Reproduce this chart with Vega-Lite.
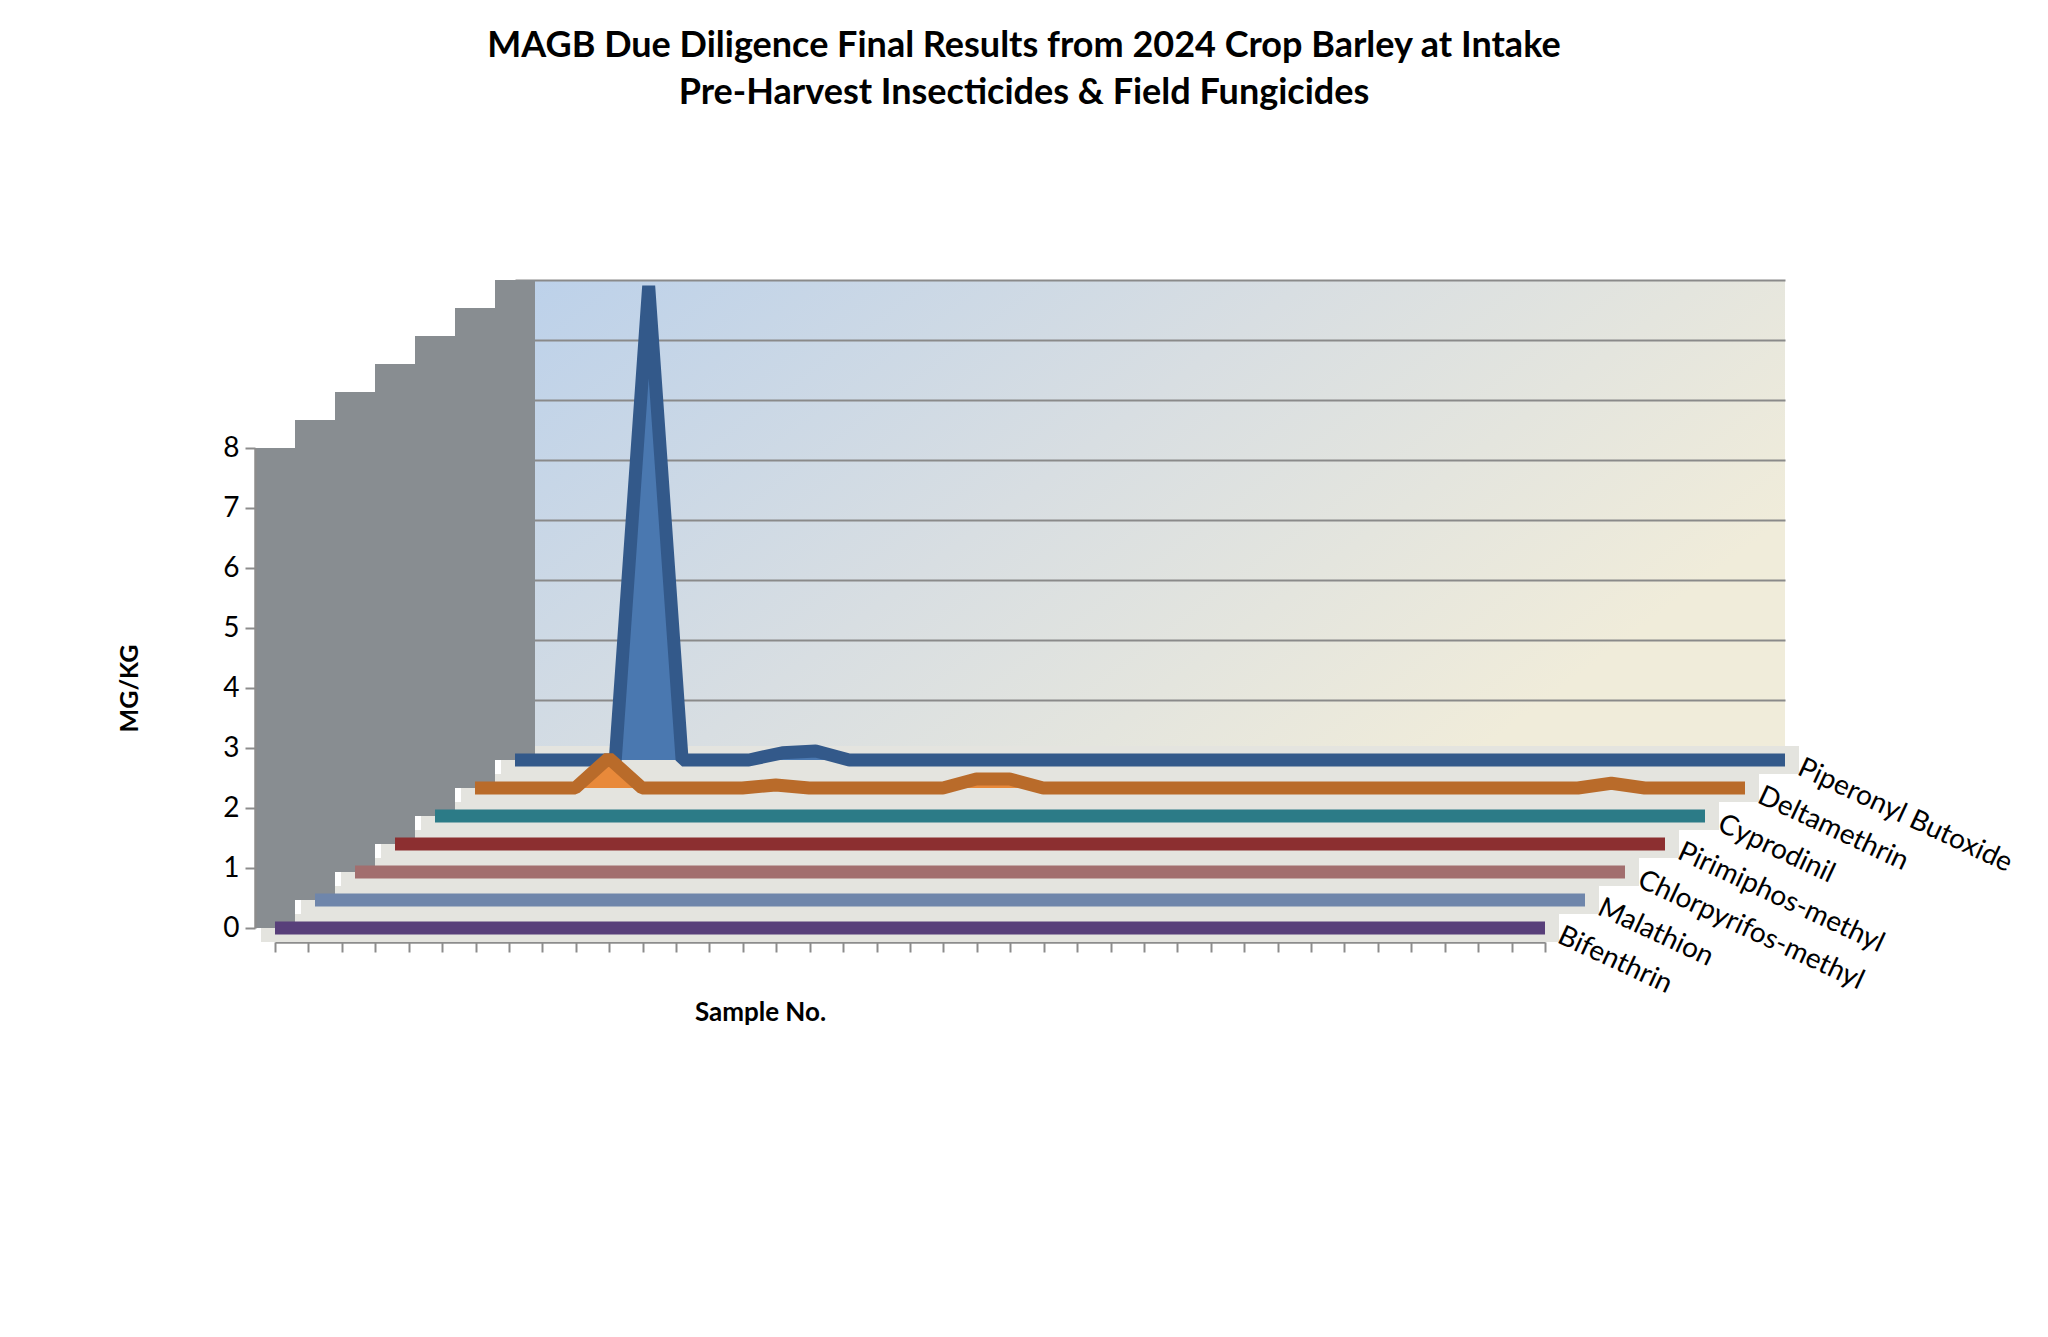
{
"$schema": "https://vega.github.io/schema/vega-lite/v6.json",
"width": 1270,
"height": 480,
"autosize": {"type": "none"},
"padding": {"left": 515, "top": 280, "right": 263, "bottom": 577},
"background": "white",
"config": {"font": "Lato", "view": {"stroke": null}},
"view": {"stroke": null, "fill": {"gradient": "linear", "x1": 0, "y1": 0, "x2": 1, "y2": 0.5, "stops": [{"offset": 0, "color": "#BCD1EA"}, {"offset": 0.5, "color": "#D8DEE2"}, {"offset": 1, "color": "#F0ECDA"}]}},
"title": {"text": ["MAGB Due Diligence Final Results from 2024 Crop Barley at Intake", "Pre-Harvest Insecticides & Field Fungicides"], "fontSize": 36, "fontWeight": "bold", "font": "Lato", "color": "black", "lineHeight": 47, "anchor": "middle", "frame": "group", "dx": -126, "offset": 148},
"data": {"values": [
{"sample":1,"pbo":0,"delt":0,"cypr":0,"pirim":0,"chlor":0,"mala":0,"bifen":0},
{"sample":2,"pbo":0,"delt":0,"cypr":0,"pirim":0,"chlor":0,"mala":0,"bifen":0},
{"sample":3,"pbo":0,"delt":0,"cypr":0,"pirim":0,"chlor":0,"mala":0,"bifen":0},
{"sample":4,"pbo":0,"delt":0,"cypr":0,"pirim":0,"chlor":0,"mala":0,"bifen":0},
{"sample":5,"pbo":7.9,"delt":0.5,"cypr":0,"pirim":0,"chlor":0,"mala":0,"bifen":0},
{"sample":6,"pbo":0,"delt":0,"cypr":0,"pirim":0,"chlor":0,"mala":0,"bifen":0},
{"sample":7,"pbo":0,"delt":0,"cypr":0,"pirim":0,"chlor":0,"mala":0,"bifen":0},
{"sample":8,"pbo":0,"delt":0,"cypr":0,"pirim":0,"chlor":0,"mala":0,"bifen":0},
{"sample":9,"pbo":0.12,"delt":0,"cypr":0,"pirim":0,"chlor":0,"mala":0,"bifen":0},
{"sample":10,"pbo":0.15,"delt":0.05,"cypr":0,"pirim":0,"chlor":0,"mala":0,"bifen":0},
{"sample":11,"pbo":0,"delt":0,"cypr":0,"pirim":0,"chlor":0,"mala":0,"bifen":0},
{"sample":12,"pbo":0,"delt":0,"cypr":0,"pirim":0,"chlor":0,"mala":0,"bifen":0},
{"sample":13,"pbo":0,"delt":0,"cypr":0,"pirim":0,"chlor":0,"mala":0,"bifen":0},
{"sample":14,"pbo":0,"delt":0,"cypr":0,"pirim":0,"chlor":0,"mala":0,"bifen":0},
{"sample":15,"pbo":0,"delt":0,"cypr":0,"pirim":0,"chlor":0,"mala":0,"bifen":0},
{"sample":16,"pbo":0,"delt":0.15,"cypr":0,"pirim":0,"chlor":0,"mala":0,"bifen":0},
{"sample":17,"pbo":0,"delt":0.15,"cypr":0,"pirim":0,"chlor":0,"mala":0,"bifen":0},
{"sample":18,"pbo":0,"delt":0,"cypr":0,"pirim":0,"chlor":0,"mala":0,"bifen":0},
{"sample":19,"pbo":0,"delt":0,"cypr":0,"pirim":0,"chlor":0,"mala":0,"bifen":0},
{"sample":20,"pbo":0,"delt":0,"cypr":0,"pirim":0,"chlor":0,"mala":0,"bifen":0},
{"sample":21,"pbo":0,"delt":0,"cypr":0,"pirim":0,"chlor":0,"mala":0,"bifen":0},
{"sample":22,"pbo":0,"delt":0,"cypr":0,"pirim":0,"chlor":0,"mala":0,"bifen":0},
{"sample":23,"pbo":0,"delt":0,"cypr":0,"pirim":0,"chlor":0,"mala":0,"bifen":0},
{"sample":24,"pbo":0,"delt":0,"cypr":0,"pirim":0,"chlor":0,"mala":0,"bifen":0},
{"sample":25,"pbo":0,"delt":0,"cypr":0,"pirim":0,"chlor":0,"mala":0,"bifen":0},
{"sample":26,"pbo":0,"delt":0,"cypr":0,"pirim":0,"chlor":0,"mala":0,"bifen":0},
{"sample":27,"pbo":0,"delt":0,"cypr":0,"pirim":0,"chlor":0,"mala":0,"bifen":0},
{"sample":28,"pbo":0,"delt":0,"cypr":0,"pirim":0,"chlor":0,"mala":0,"bifen":0},
{"sample":29,"pbo":0,"delt":0,"cypr":0,"pirim":0,"chlor":0,"mala":0,"bifen":0},
{"sample":30,"pbo":0,"delt":0,"cypr":0,"pirim":0,"chlor":0,"mala":0,"bifen":0},
{"sample":31,"pbo":0,"delt":0,"cypr":0,"pirim":0,"chlor":0,"mala":0,"bifen":0},
{"sample":32,"pbo":0,"delt":0,"cypr":0,"pirim":0,"chlor":0,"mala":0,"bifen":0},
{"sample":33,"pbo":0,"delt":0,"cypr":0,"pirim":0,"chlor":0,"mala":0,"bifen":0},
{"sample":34,"pbo":0,"delt":0,"cypr":0,"pirim":0,"chlor":0,"mala":0,"bifen":0},
{"sample":35,"pbo":0,"delt":0.08,"cypr":0,"pirim":0,"chlor":0,"mala":0,"bifen":0},
{"sample":36,"pbo":0,"delt":0,"cypr":0,"pirim":0,"chlor":0,"mala":0,"bifen":0},
{"sample":37,"pbo":0,"delt":0,"cypr":0,"pirim":0,"chlor":0,"mala":0,"bifen":0},
{"sample":38,"pbo":0,"delt":0,"cypr":0,"pirim":0,"chlor":0,"mala":0,"bifen":0},
{"sample":39,"pbo":0,"delt":0,"cypr":0,"pirim":0,"chlor":0,"mala":0,"bifen":0}
]},
"layer": [
{"encoding": {
  "x": {"field": "sample", "type": "quantitative", "scale": {"domain": [1, 39], "range": [0, 1270], "nice": false, "zero": false}, "axis": null},
  "y": {"field": "pbo", "type": "quantitative", "scale": {"domain": [0, 8], "range": [480, 0], "nice": false}, "axis": {"orient": "right", "values": [0,1,2,3,4,5,6,7,8], "grid": true, "gridColor": "#8A8A8A", "gridWidth": 2, "labels": false, "ticks": false, "domain": false, "title": null}}},
 "layer": [
  {"mark": {"type": "line", "color": "#E4E4DF", "strokeWidth": 28, "strokeCap": "square"}, "encoding": {"y": {"datum": 0, "scale": {"domain": [0, 8], "range": [480, 0], "nice": false}, "axis": {"orient": "right", "values": [0,1,2,3,4,5,6,7,8], "grid": true, "gridColor": "#8A8A8A", "gridWidth": 2, "labels": false, "ticks": false, "domain": false, "title": null}}}},
  {"transform": [{"filter": "datum.sample == 1"}], "mark": {"type": "rule", "color": "#888D91", "strokeWidth": 40, "strokeCap": "butt"}, "encoding": {"y": {"datum": 0, "scale": {"domain": [0, 8], "range": [480, 0], "nice": false}, "axis": {"orient": "right", "values": [0,1,2,3,4,5,6,7,8], "grid": true, "gridColor": "#8A8A8A", "gridWidth": 2, "labels": false, "ticks": false, "domain": false, "title": null}}, "y2": {"datum": 8}}},
  {"mark": {"type": "area", "color": "#4A78B0"}},
  {"mark": {"type": "line", "color": "#33598A", "strokeWidth": 13, "strokeJoin": "bevel", "strokeCap": "butt"}},
  {"transform": [{"filter": "datum.sample == 39"}], "mark": {"type": "text", "text": "Piperonyl Butoxide", "angle": 25, "align": "left", "baseline": "middle", "dx": 16, "fontSize": 28, "font": "Lato", "color": "black"}}
 ]},
{"encoding": {
  "x": {"field": "sample", "type": "quantitative", "scale": {"domain": [1, 39], "range": [-40, 1230], "nice": false, "zero": false}, "axis": null},
  "y": {"field": "delt", "type": "quantitative", "scale": {"domain": [0, 8], "range": [508, 28], "nice": false}, "axis": null}},
 "layer": [
  {"mark": {"type": "line", "color": "#E4E4DF", "strokeWidth": 28, "strokeCap": "square"}, "encoding": {"y": {"datum": 0, "axis": null}}},
  {"transform": [{"filter": "datum.sample == 1"}], "mark": {"type": "rule", "color": "#888D91", "strokeWidth": 40, "strokeCap": "butt"}, "encoding": {"y": {"datum": 0, "axis": null}, "y2": {"datum": 8}}},
  {"mark": {"type": "area", "color": "#E8893A"}},
  {"mark": {"type": "line", "color": "#B96B2A", "strokeWidth": 13, "strokeJoin": "bevel", "strokeCap": "butt"}},
  {"transform": [{"filter": "datum.sample == 39"}], "mark": {"type": "text", "text": "Deltamethrin", "angle": 25, "align": "left", "baseline": "middle", "dx": 16, "fontSize": 28, "font": "Lato", "color": "black"}}
 ]},
{"encoding": {
  "x": {"field": "sample", "type": "quantitative", "scale": {"domain": [1, 39], "range": [-80, 1190], "nice": false, "zero": false}, "axis": null},
  "y": {"field": "cypr", "type": "quantitative", "scale": {"domain": [0, 8], "range": [536, 56], "nice": false}, "axis": null}},
 "layer": [
  {"mark": {"type": "line", "color": "#E4E4DF", "strokeWidth": 28, "strokeCap": "square"}, "encoding": {"y": {"datum": 0, "axis": null}}},
  {"transform": [{"filter": "datum.sample == 1"}], "mark": {"type": "rule", "color": "#888D91", "strokeWidth": 40, "strokeCap": "butt"}, "encoding": {"y": {"datum": 0, "axis": null}, "y2": {"datum": 8}}},
  {"mark": {"type": "area", "color": "#3A96A4"}},
  {"mark": {"type": "line", "color": "#2C7B87", "strokeWidth": 13, "strokeJoin": "bevel", "strokeCap": "butt"}},
  {"transform": [{"filter": "datum.sample == 39"}], "mark": {"type": "text", "text": "Cyprodinil", "angle": 25, "align": "left", "baseline": "middle", "dx": 16, "fontSize": 28, "font": "Lato", "color": "black"}}
 ]},
{"encoding": {
  "x": {"field": "sample", "type": "quantitative", "scale": {"domain": [1, 39], "range": [-120, 1150], "nice": false, "zero": false}, "axis": null},
  "y": {"field": "pirim", "type": "quantitative", "scale": {"domain": [0, 8], "range": [564, 84], "nice": false}, "axis": null}},
 "layer": [
  {"mark": {"type": "line", "color": "#E4E4DF", "strokeWidth": 28, "strokeCap": "square"}, "encoding": {"y": {"datum": 0, "axis": null}}},
  {"transform": [{"filter": "datum.sample == 1"}], "mark": {"type": "rule", "color": "#888D91", "strokeWidth": 40, "strokeCap": "butt"}, "encoding": {"y": {"datum": 0, "axis": null}, "y2": {"datum": 8}}},
  {"mark": {"type": "area", "color": "#B03D3D"}},
  {"mark": {"type": "line", "color": "#8C2F30", "strokeWidth": 13, "strokeJoin": "bevel", "strokeCap": "butt"}},
  {"transform": [{"filter": "datum.sample == 39"}], "mark": {"type": "text", "text": "Pirimiphos-methyl", "angle": 25, "align": "left", "baseline": "middle", "dx": 16, "fontSize": 28, "font": "Lato", "color": "black"}}
 ]},
{"encoding": {
  "x": {"field": "sample", "type": "quantitative", "scale": {"domain": [1, 39], "range": [-160, 1110], "nice": false, "zero": false}, "axis": null},
  "y": {"field": "chlor", "type": "quantitative", "scale": {"domain": [0, 8], "range": [592, 112], "nice": false}, "axis": null}},
 "layer": [
  {"mark": {"type": "line", "color": "#E4E4DF", "strokeWidth": 28, "strokeCap": "square"}, "encoding": {"y": {"datum": 0, "axis": null}}},
  {"transform": [{"filter": "datum.sample == 1"}], "mark": {"type": "rule", "color": "#888D91", "strokeWidth": 40, "strokeCap": "butt"}, "encoding": {"y": {"datum": 0, "axis": null}, "y2": {"datum": 8}}},
  {"mark": {"type": "area", "color": "#C08888"}},
  {"mark": {"type": "line", "color": "#A26E6E", "strokeWidth": 13, "strokeJoin": "bevel", "strokeCap": "butt"}},
  {"transform": [{"filter": "datum.sample == 39"}], "mark": {"type": "text", "text": "Chlorpyrifos-methyl", "angle": 25, "align": "left", "baseline": "middle", "dx": 16, "fontSize": 28, "font": "Lato", "color": "black"}}
 ]},
{"encoding": {
  "x": {"field": "sample", "type": "quantitative", "scale": {"domain": [1, 39], "range": [-200, 1070], "nice": false, "zero": false}, "axis": null},
  "y": {"field": "mala", "type": "quantitative", "scale": {"domain": [0, 8], "range": [620, 140], "nice": false}, "axis": null}},
 "layer": [
  {"mark": {"type": "line", "color": "#E4E4DF", "strokeWidth": 28, "strokeCap": "square"}, "encoding": {"y": {"datum": 0, "axis": null}}},
  {"transform": [{"filter": "datum.sample == 1"}], "mark": {"type": "rule", "color": "#888D91", "strokeWidth": 40, "strokeCap": "butt"}, "encoding": {"y": {"datum": 0, "axis": null}, "y2": {"datum": 8}}},
  {"mark": {"type": "area", "color": "#8BA2C8"}},
  {"mark": {"type": "line", "color": "#6F86AB", "strokeWidth": 13, "strokeJoin": "bevel", "strokeCap": "butt"}},
  {"transform": [{"filter": "datum.sample == 39"}], "mark": {"type": "text", "text": "Malathion", "angle": 25, "align": "left", "baseline": "middle", "dx": 16, "fontSize": 28, "font": "Lato", "color": "black"}}
 ]},
{"encoding": {
  "x": {"field": "sample", "type": "quantitative", "scale": {"domain": [1, 39], "range": [-240, 1030], "nice": false, "zero": false}, "axis": {"values": [1,2,3,4,5,6,7,8,9,10,11,12,13,14,15,16,17,18,19,20,21,22,23,24,25,26,27,28,29,30,31,32,33,34,35,36,37,38,39], "labels": false, "grid": false, "tickSize": 10, "tickColor": "#8C8C8C", "tickWidth": 2, "domainColor": "#8C8C8C", "domainWidth": 2.5, "offset": 182, "title": "Sample No.", "titleFont": "Lato", "titleFontSize": 26, "titleFontWeight": "bold", "titleColor": "black", "titleX": 245, "titleY": 70, "titleBaseline": "middle", "titleAlign": "center"}},
  "y": {"field": "bifen", "type": "quantitative", "scale": {"domain": [0, 8], "range": [648, 168], "nice": false}, "axis": {"orient": "left", "values": [0,1,2,3,4,5,6,7,8], "offset": 260, "zindex": 1, "grid": false, "tickSize": 10, "tickColor": "#8C8C8C", "tickWidth": 2, "domainColor": "#8C8C8C", "domainWidth": 2.5, "labelFont": "Lato", "labelFontSize": 28, "labelColor": "black", "labelPadding": 6, "title": "MG/KG", "titleFont": "Lato", "titleFontSize": 25, "titleFontWeight": "bold", "titleColor": "black", "titlePadding": 80}}},
 "layer": [
  {"mark": {"type": "line", "color": "#E4E4DF", "strokeWidth": 28, "strokeCap": "square"}, "encoding": {"y": {"datum": 0, "scale": {"domain": [0, 8], "range": [648, 168], "nice": false}, "axis": {"orient": "left", "values": [0,1,2,3,4,5,6,7,8], "offset": 260, "zindex": 1, "grid": false, "tickSize": 10, "tickColor": "#8C8C8C", "tickWidth": 2, "domainColor": "#8C8C8C", "domainWidth": 2.5, "labelFont": "Lato", "labelFontSize": 28, "labelColor": "black", "labelPadding": 6, "title": "MG/KG", "titleFont": "Lato", "titleFontSize": 25, "titleFontWeight": "bold", "titleColor": "black", "titlePadding": 80}}}},
  {"transform": [{"filter": "datum.sample == 1"}], "mark": {"type": "rule", "color": "#888D91", "strokeWidth": 40, "strokeCap": "butt"}, "encoding": {"y": {"datum": 0, "scale": {"domain": [0, 8], "range": [648, 168], "nice": false}, "axis": {"orient": "left", "values": [0,1,2,3,4,5,6,7,8], "offset": 260, "zindex": 1, "grid": false, "tickSize": 10, "tickColor": "#8C8C8C", "tickWidth": 2, "domainColor": "#8C8C8C", "domainWidth": 2.5, "labelFont": "Lato", "labelFontSize": 28, "labelColor": "black", "labelPadding": 6, "title": "MG/KG", "titleFont": "Lato", "titleFontSize": 25, "titleFontWeight": "bold", "titleColor": "black", "titlePadding": 80}}, "y2": {"datum": 8}}},
  {"mark": {"type": "area", "color": "#6E539A"}},
  {"mark": {"type": "line", "color": "#583F7A", "strokeWidth": 13, "strokeJoin": "bevel", "strokeCap": "butt"}},
  {"transform": [{"filter": "datum.sample == 39"}], "mark": {"type": "text", "text": "Bifenthrin", "angle": 25, "align": "left", "baseline": "middle", "dx": 16, "fontSize": 28, "font": "Lato", "color": "black"}}
 ]}
],
"resolve": {"scale": {"x": "independent", "y": "independent"}, "axis": {"x": "independent", "y": "independent"}}
}
